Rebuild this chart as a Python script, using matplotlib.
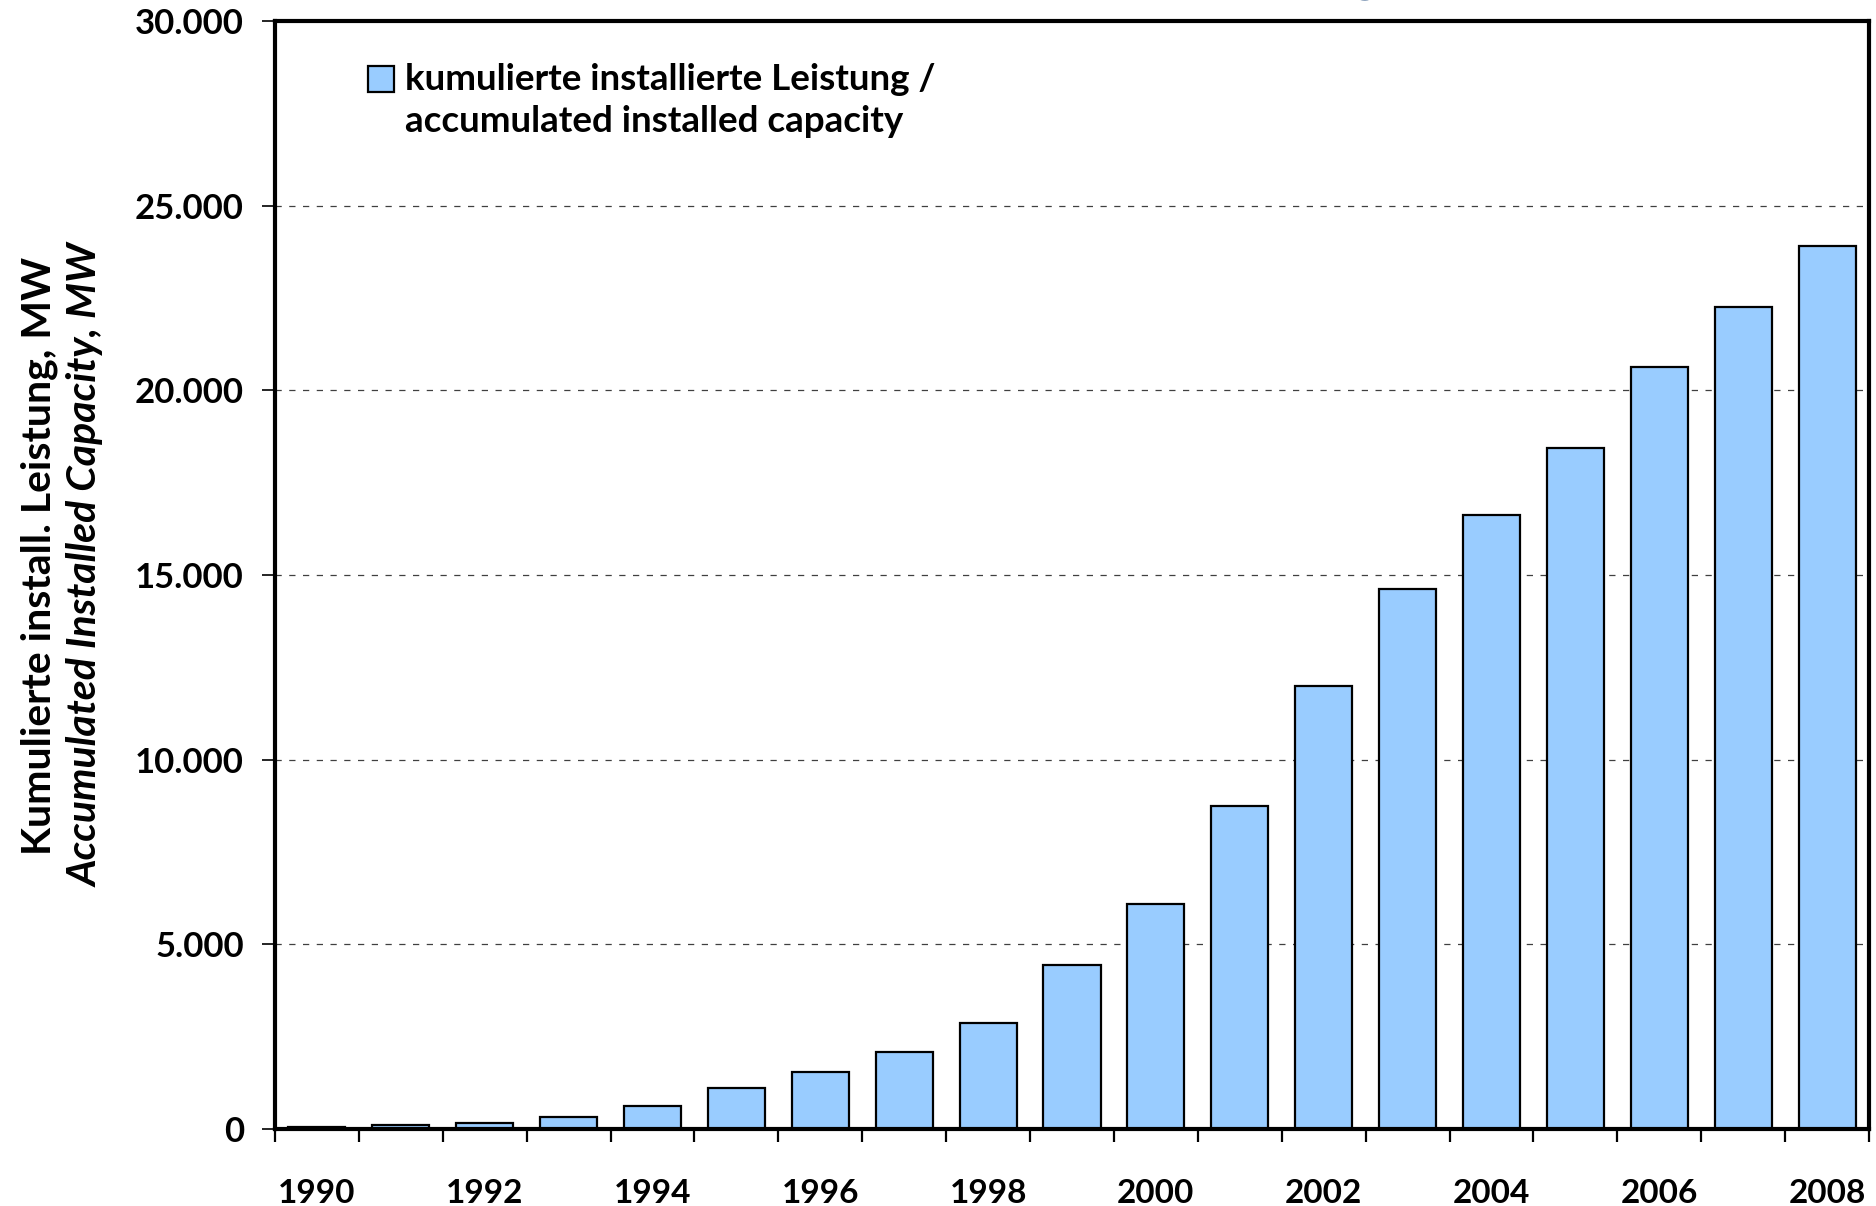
import matplotlib
matplotlib.use("Agg")
import matplotlib.pyplot as plt
from matplotlib.patches import Rectangle
from matplotlib.ticker import FuncFormatter

plt.rcParams['font.family'] = ['Lato', 'DejaVu Sans']

years = list(range(1990, 2009))
capacity = [55, 106, 174, 326, 618, 1121, 1546, 2080, 2875, 4444, 6095,
            8754, 11994, 14609, 16629, 18428, 20622, 22247, 23903]
yticks = [0, 5000, 10000, 15000, 20000, 25000, 30000]
legend_label = "kumulierte installierte Leistung /\naccumulated installed capacity"
ylabel_de = "Kumulierte install. Leistung, MW"
ylabel_en = "Accumulated Installed Capacity, MW"

W, H = 1876, 1206
fig = plt.figure(figsize=(W / 100, H / 100), dpi=100)
L, R, T, B = 275, 1869, 21, 1129
ax = fig.add_axes([L / W, 1 - B / H, (R - L) / W, (B - T) / H])

bar_color = '#99CCFF'
x = list(range(len(years)))
ax.bar(x, capacity, width=0.68, color=bar_color, edgecolor='black', linewidth=1.6, zorder=3)

ax.set_xlim(-0.5, len(years) - 0.5)
ax.set_ylim(0, 30000)

ax.set_yticks(yticks)
ax.yaxis.set_major_formatter(FuncFormatter(lambda v, p: f"{int(v):,}".replace(",", ".")))
ax.tick_params(axis='y', direction='out', length=9.5, width=1.2, pad=13, labelsize=25)
for lab in ax.get_yticklabels():
    lab.set_fontweight('bold')

# x: tick marks at category boundaries, labels every two years
ax.set_xticks([i - 0.5 for i in range(len(years) + 1)])
ax.set_xticklabels([])
ax.tick_params(axis='x', which='major', direction='out', length=9.5, width=1.6)
ax.set_xticks([i for i in x if years[i] % 2 == 0], minor=True)
ax.set_xticklabels([str(years[i]) for i in x if years[i] % 2 == 0], minor=True,
                   fontsize=24, fontweight='bold')
ax.tick_params(axis='x', which='minor', length=0, pad=36)

for y in yticks[1:-1]:
    ax.axhline(y, color='#404040', linewidth=0.9, linestyle=(0, (5, 6)), zorder=1)

for s in ax.spines.values():
    s.set_linewidth(3)
    s.set_zorder(5)

# legend (manual)
fig.patches.append(Rectangle((368 / W, 1 - 92 / H), 26 / W, 26 / H,
                             transform=fig.transFigure, facecolor=bar_color,
                             edgecolor='black', linewidth=1.6))
fig.text(405 / W, 1 - 63 / H, legend_label, fontsize=26.5, fontweight='bold',
         va='top', ha='left', linespacing=1.33)

# y-axis labels
fig.text(39 / W, 1 - 556 / H, ylabel_de, rotation=90, fontsize=29.5, fontweight='bold',
         ha='center', va='center')
fig.text(86 / W, 1 - 565 / H, ylabel_en, rotation=90, fontsize=29.5, fontweight='bold',
         style='italic', ha='center', va='center')

# clipped title descender at top edge
fig.text(1365 / W, 1 + 8 / H, "g", fontsize=34, fontweight='bold', color='#1F497D',
         ha='center', va='baseline')

fig.savefig("out.png", dpi=100)
